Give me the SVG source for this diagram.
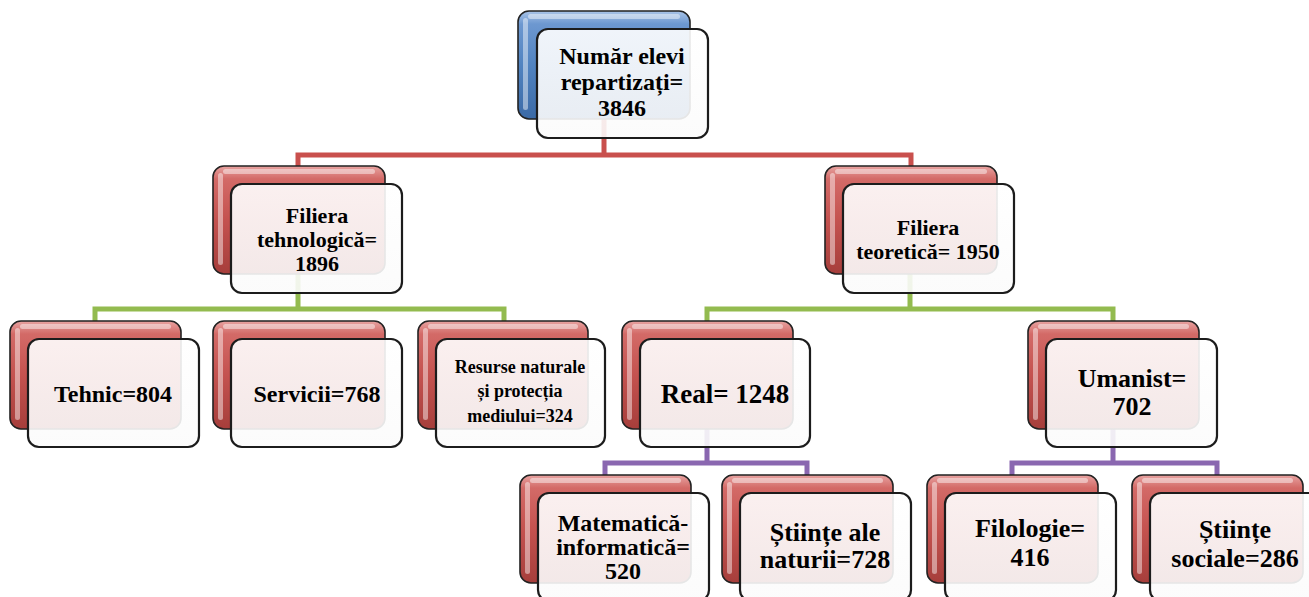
<svg xmlns="http://www.w3.org/2000/svg" width="1309" height="597" viewBox="0 0 1309 597">
<defs>
<linearGradient id="redG" x1="0" y1="0" x2="0" y2="1">
<stop offset="0" stop-color="#e8a3a1"/>
<stop offset="0.12" stop-color="#d36a67"/>
<stop offset="0.5" stop-color="#c4524f"/>
<stop offset="1" stop-color="#a63e3b"/>
</linearGradient>
<linearGradient id="blueG" x1="0" y1="0" x2="0" y2="1">
<stop offset="0" stop-color="#a9c4e8"/>
<stop offset="0.12" stop-color="#6d98d0"/>
<stop offset="0.5" stop-color="#5183c0"/>
<stop offset="1" stop-color="#3b6aa6"/>
</linearGradient>
<linearGradient id="frontG" x1="0" y1="0" x2="0" y2="1">
<stop offset="0" stop-color="#ffffff" stop-opacity="0.9"/>
<stop offset="1" stop-color="#fbfbfb" stop-opacity="0.9"/>
</linearGradient>
</defs>
<style>
.back{fill:url(#redG);stroke:#222;stroke-width:1.6}
.backb{fill:url(#blueG);stroke:#222;stroke-width:1.6}
.hl{fill:#fff;fill-opacity:0.45}
.front{fill:url(#frontG);stroke:#1c1c1c;stroke-width:2.2}
text{font-family:'Liberation Serif','DejaVu Serif',serif;font-weight:700;fill:#000;text-anchor:middle}
.red{stroke:#c9504d;stroke-width:5;fill:none}
.green{stroke:#93bb4f;stroke-width:5;fill:none}
.purple{stroke:#8a67b0;stroke-width:5;fill:none}
</style>
<g id="connectors">
<path class="red" d="M604 119V155M298 166V155H911V166"/>
<path class="green" d="M298 274V309M95 321V309H504V321"/>
<path class="green" d="M910 274V309M707 321V309H1113V321"/>
<path class="purple" d="M707 429V463M605 475V463H807V475"/>
<path class="purple" d="M1113 429V463M1012 475V463H1217V475"/>
</g>
<g id="n-total">
<rect class="backb" x="518" y="11" width="172" height="108" rx="11"/>
<rect class="hl" x="523" y="18" width="5" height="92" rx="2.5"/>
<rect class="hl" x="528" y="14" width="152" height="5" rx="2.5"/>
<rect class="front" x="537" y="29" width="171" height="109" rx="11"/>
<text font-family="Liberation Serif, serif" font-size="24" x="622" y="64">Număr elevi</text>
<text font-family="Liberation Serif, serif" font-size="24" x="622" y="90">repartizați=</text>
<text font-family="Liberation Serif, serif" font-size="24" x="622" y="116">3846</text>
</g>
<g id="n-tehnologica">
<rect class="back" x="213" y="166" width="172" height="108" rx="11"/>
<rect class="hl" x="218" y="173" width="5" height="92" rx="2.5"/>
<rect class="hl" x="223" y="169" width="152" height="5" rx="2.5"/>
<rect class="front" x="231" y="184" width="171" height="109" rx="11"/>
<text font-size="22" x="317" y="223">Filiera</text>
<text font-size="22" x="317" y="247">tehnologică=</text>
<text font-size="22" x="317" y="271">1896</text>
</g>
<g id="n-teoretica">
<rect class="back" x="825" y="166" width="172" height="108" rx="11"/>
<rect class="hl" x="830" y="173" width="5" height="92" rx="2.5"/>
<rect class="hl" x="835" y="169" width="152" height="5" rx="2.5"/>
<rect class="front" x="843" y="184" width="171" height="109" rx="11"/>
<text font-size="22" x="928" y="235">Filiera</text>
<text font-size="22" x="928" y="259">teoretică= 1950</text>
</g>
<g id="n-tehnic">
<rect class="back" x="10" y="321" width="171" height="108" rx="11"/>
<rect class="hl" x="15" y="328" width="5" height="92" rx="2.5"/>
<rect class="hl" x="20" y="324" width="151" height="5" rx="2.5"/>
<rect class="front" x="28" y="339" width="171" height="108" rx="11"/>
<text font-size="24" x="113" y="402">Tehnic=804</text>
</g>
<g id="n-servicii">
<rect class="back" x="213" y="321" width="172" height="108" rx="11"/>
<rect class="hl" x="218" y="328" width="5" height="92" rx="2.5"/>
<rect class="hl" x="223" y="324" width="152" height="5" rx="2.5"/>
<rect class="front" x="231" y="339" width="171" height="108" rx="11"/>
<text font-size="24" x="317" y="402">Servicii=768</text>
</g>
<g id="n-resurse">
<rect class="back" x="418" y="321" width="170" height="108" rx="11"/>
<rect class="hl" x="423" y="328" width="5" height="92" rx="2.5"/>
<rect class="hl" x="428" y="324" width="150" height="5" rx="2.5"/>
<rect class="front" x="436" y="339" width="169" height="108" rx="11"/>
<text font-size="18" x="520" y="373">Resurse naturale</text>
<text font-size="18" x="520" y="397">și protecția</text>
<text font-size="18" x="520" y="422">mediului=324</text>
</g>
<g id="n-real">
<rect class="back" x="622" y="321" width="171" height="108" rx="11"/>
<rect class="hl" x="627" y="328" width="5" height="92" rx="2.5"/>
<rect class="hl" x="632" y="324" width="151" height="5" rx="2.5"/>
<rect class="front" x="640" y="339" width="170" height="108" rx="11"/>
<text font-size="27" x="725" y="403">Real= 1248</text>
</g>
<g id="n-umanist">
<rect class="back" x="1028" y="321" width="171" height="108" rx="11"/>
<rect class="hl" x="1033" y="328" width="5" height="92" rx="2.5"/>
<rect class="hl" x="1038" y="324" width="151" height="5" rx="2.5"/>
<rect class="front" x="1046" y="339" width="171" height="108" rx="11"/>
<text font-size="26" x="1132" y="387">Umanist=</text>
<text font-size="26" x="1132" y="415">702</text>
</g>
<g id="n-matematica">
<rect class="back" x="520" y="475" width="171" height="108" rx="11"/>
<rect class="hl" x="525" y="482" width="5" height="92" rx="2.5"/>
<rect class="hl" x="530" y="478" width="151" height="5" rx="2.5"/>
<rect class="front" x="538" y="493" width="171" height="108" rx="11"/>
<text font-size="24" x="623" y="531">Matematică-</text>
<text font-size="24" x="623" y="555">informatică=</text>
<text font-size="24" x="623" y="579">520</text>
</g>
<g id="n-naturii">
<rect class="back" x="722" y="475" width="171" height="108" rx="11"/>
<rect class="hl" x="727" y="482" width="5" height="92" rx="2.5"/>
<rect class="hl" x="732" y="478" width="151" height="5" rx="2.5"/>
<rect class="front" x="740" y="493" width="171" height="108" rx="11"/>
<text font-size="26" x="825" y="541">Științe ale</text>
<text font-size="26" x="825" y="568">naturii=728</text>
</g>
<g id="n-filologie">
<rect class="back" x="927" y="475" width="171" height="108" rx="11"/>
<rect class="hl" x="932" y="482" width="5" height="92" rx="2.5"/>
<rect class="hl" x="937" y="478" width="151" height="5" rx="2.5"/>
<rect class="front" x="945" y="493" width="171" height="108" rx="11"/>
<text font-size="26" x="1030" y="537">Filologie=</text>
<text font-size="26" x="1030" y="566">416</text>
</g>
<g id="n-sociale">
<rect class="back" x="1132" y="475" width="171" height="108" rx="11"/>
<rect class="hl" x="1137" y="482" width="5" height="92" rx="2.5"/>
<rect class="hl" x="1142" y="478" width="151" height="5" rx="2.5"/>
<rect class="front" x="1150" y="493" width="171" height="108" rx="11"/>
<text font-size="26" x="1235" y="538">Științe</text>
<text font-size="26" x="1235" y="567">sociale=286</text>
</g>
</svg>
